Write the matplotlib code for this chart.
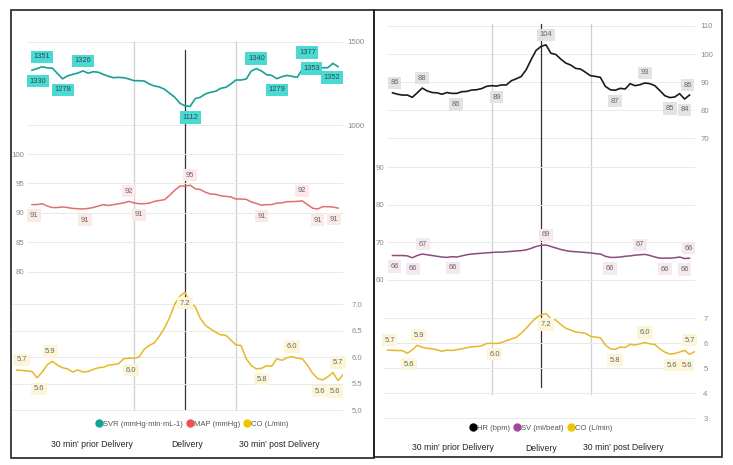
import numpy as np
import matplotlib.pyplot as plt
from matplotlib.lines import Line2D
from matplotlib.patches import Rectangle

plt.rcParams['font.family'] = ['Liberation Sans Narrow', 'Liberation Sans', 'DejaVu Sans']

W, H = 733, 465

# minutes relative to delivery
minutes = np.arange(-30, 31)
minutes_co_l = np.arange(-33, 32)   # the left CO trace runs a little wider
minutes_co_r = np.arange(-31, 32)
marks_at = [-10, 0, 10]

svr = [1330, 1340, 1351, 1344, 1342, 1310, 1278, 1296, 1305, 1313,
       1326, 1312, 1321, 1318, 1305, 1293, 1285, 1287, 1285, 1277,
       1267, 1267, 1265, 1247, 1235, 1229, 1215, 1191, 1167, 1131,
       1115,
       1112, 1159, 1167, 1187, 1197, 1203, 1221, 1227, 1247, 1271,
       1271, 1277, 1325, 1340, 1325, 1303, 1299, 1279, 1291, 1299,
       1293, 1287, 1335, 1377, 1353, 1347, 1345, 1345, 1371, 1352]

map_ = [91.4, 91.4, 91.55, 91.15, 90.9, 90.9, 91.0, 90.9, 90.75, 90.7,
        90.65, 90.75, 90.9, 91.15, 91.4, 91.25, 91.4, 91.55, 91.7, 91.95,
        91.7, 91.55, 91.55, 91.65, 91.95, 92.1, 92.25, 93.0, 93.85, 94.55,
        94.55,
        94.7, 94.1, 93.95, 93.5, 93.2, 93.15, 92.9, 92.8, 92.7, 92.35,
        92.35, 92.3, 91.85, 91.6, 91.3, 91.4, 91.4, 91.65, 91.7, 91.9,
        91.9, 91.95, 92.05, 91.4, 90.8, 90.65, 91.05, 91.05, 91.0, 90.8]

co_l = [5.76, 5.75, 5.74,
        5.73, 5.61, 5.72, 5.86, 5.92, 5.85, 5.80, 5.78, 5.72, 5.76,
        5.72, 5.73, 5.77, 5.80, 5.81, 5.85, 5.86, 5.88, 5.97, 5.98,
        5.98, 6.00, 6.15, 6.22, 6.27, 6.40, 6.55, 6.75, 7.00, 7.15,
        7.22,
        7.02, 6.95, 6.73, 6.60, 6.53, 6.47, 6.42, 6.41, 6.32, 6.23,
        6.22, 5.97, 5.84, 5.78, 5.79, 5.84, 5.83, 5.97, 5.94, 5.99,
        6.01, 5.98, 5.97, 5.85, 5.70, 5.60, 5.57, 5.63, 5.71, 5.56,
        5.67]

hr = [86.2, 85.7, 85.4, 85.4, 84.6, 86.2, 87.9, 86.9, 86.3, 86.2,
      85.7, 86.3, 86.0, 86.0, 86.6, 86.7, 87.2, 87.3, 87.7, 88.5,
      88.75, 88.6, 89.0, 89.0, 90.5, 91.2, 92.0, 94.4, 98.0, 101.3,
      102.7,
      103.3, 100.3, 99.85, 98.2, 96.8, 96.1, 94.9, 94.65, 93.5, 92.3,
      92.05, 91.7, 88.5, 87.3, 87.1, 87.8, 87.55, 89.45, 88.75, 89.1,
      89.7, 89.45, 88.75, 87.0, 85.2, 84.5, 84.7, 85.9, 84.0, 85.4]

sv = [66.5, 66.5, 66.5, 66.4, 65.9, 66.5, 66.9, 66.7, 66.5, 66.3,
      66.1, 66.0, 66.2, 66.1, 66.4, 66.7, 66.9, 67.0, 67.1, 67.2,
      67.3, 67.4, 67.4, 67.5, 67.6, 67.7, 67.8, 68.0, 68.4, 68.9,
      69.2,
      69.3, 68.9, 68.5, 68.1, 67.8, 67.6, 67.5, 67.4, 67.3, 67.2,
      67.0, 66.9, 66.3, 66.0, 66.0, 66.1, 66.3, 66.4, 66.6, 66.7,
      66.8, 66.5, 66.1, 65.8, 65.8, 65.8, 65.9, 66.1, 65.7, 65.8]

co_r = [5.73,
        5.72, 5.71, 5.71, 5.60, 5.74, 5.92, 5.84, 5.80, 5.78, 5.74,
        5.68, 5.73, 5.71, 5.74, 5.78, 5.82, 5.86, 5.87, 5.90, 5.99,
        6.00, 5.99, 6.03, 6.10, 6.17, 6.24, 6.40, 6.60, 6.82, 7.02,
        7.14,
        7.19, 6.98, 6.93, 6.75, 6.60, 6.53, 6.45, 6.43, 6.40, 6.28,
        6.25, 6.22, 5.93, 5.78, 5.76, 5.85, 5.83, 5.96, 5.93, 5.98,
        6.03, 5.98, 5.95, 5.78, 5.65, 5.57, 5.59, 5.65, 5.72, 5.56,
        5.66]

# data labels: minute, text
svr_lab_at = [-30, -28, -24, -20, 1, 14, 18, 24, 25, 30]
svr_lab_txt = ['1330', '1351', '1278', '1326', '1112', '1340', '1279', '1377', '1353', '1352']
map_lab_at = [-30, -20, -11, -9, 1, 15, 23, 26, 30]
map_lab_txt = ['91', '91', '92', '91', '95', '91', '92', '91', '91']
co_l_lab_at = [-33, -29, -26, -10, 0, 15, 21, 27, 30, 29]
co_l_lab_txt = ['5.7', '5.6', '5.9', '6.0', '7.2', '5.8', '6.0', '5.6', '5.6', '5.7']
hr_lab_at = [-30, -24, -18, -9, 1, 15, 21, 26, 29, 30]
hr_lab_txt = ['86', '88', '86', '89', '104', '87', '93', '85', '84', '86']
sv_lab_at = [-30, -26, -24, -18, 1, 14, 20, 25, 29, 30]
sv_lab_txt = ['66', '66', '67', '66', '69', '66', '67', '66', '66', '66']
co_r_lab_at = [-31, -27, -25, -10, 1, 15, 21, 26, 30, 29]
co_r_lab_txt = ['5.7', '5.6', '5.9', '6.0', '7.2', '5.8', '6.0', '5.6', '5.6', '5.7']

# label placement (pixels): (dx, dy), dy positive = above
UP, DN = 10, -11
svr_lab_pos = [(6, DN), (0, UP), (0, DN), (0, UP), (0, DN), (0, UP), (0, DN), (0, UP), (-1, -2), (-6, DN)]
map_lab_pos = [(2, DN), (2, DN), (0, UP), (0, DN), (0, UP), (0, DN), (0, UP), (0, DN), (-4, DN)]
co_l_lab_pos = [(5, UP), (2, DN), (-2, UP), (-3, -12), (0, DN), (0, DN), (0, UP), (-3, DN), (-3, DN), (5, UP)]
hr_lab_pos = [(2, UP), (0, UP), (4, DN), (0, DN), (0, UP), (0, DN), (0, UP), (0, DN), (0, DN), (-2, UP)]
sv_lab_pos = [(2, DN), (1, DN), (1, UP), (1, DN), (0, UP), (0, DN), (0, UP), (0, DN), (0, DN), (-1, UP)]
co_r_lab_pos = [(2, UP), (2, DN), (2, UP), (3, DN), (0, DN), (0, DN), (0, UP), (2, DN), (-3, DN), (5, UP)]

fig = plt.figure(figsize=(W / 100, H / 100), dpi=100)


def px_axes(x0, y0, x1, y1):
    ax = fig.add_axes([x0 / W, 1 - y1 / H, (x1 - x0) / W, (y1 - y0) / H])
    ax.set_facecolor('none')
    for s in ax.spines.values():
        s.set_visible(False)
    ax.set_xticks([])
    return ax, (x0, y0, x1, y1)


def fit(ax, box, xz, ppm, va, ya, vb, yb):
    x0, y0, x1, y1 = box
    ax.set_xlim((x0 - xz) / ppm, (x1 - xz) / ppm)
    k = (vb - va) / (yb - ya)
    ax.set_ylim(va + (y1 - ya) * k, va + (y0 - ya) * k)


def yaxis(ax, ticks, side, pad, fmt, size=5.6):
    ax.set_yticks(ticks)
    ax.set_yticklabels([fmt.format(t) for t in ticks])
    ax.yaxis.set_ticks_position(side)
    ax.tick_params(axis='y', length=0, pad=pad, labelsize=size, labelcolor='#8a8a8a')
    ax.grid(axis='y', color='#e9e9e9', lw=0.7)
    ax.set_axisbelow(True)


def labels(ax, xs, ys, at, txt, pos, fc, tc):
    xs = list(xs)
    for m, t, (dx, dy) in zip(at, txt, pos):
        i = xs.index(m)
        ax.annotate(t, (xs[i], ys[i]), xytext=(dx, dy), textcoords='offset pixels',
                    ha='center', va='center', fontsize=5.4, color=tc, zorder=5,
                    bbox=dict(boxstyle='square,pad=0.35', fc=fc, ec='none'))


def vlines(ax, box, spans):
    x0, y0, x1, y1 = box
    for m, (ya, yb), col, lw in spans:
        ax.axvline(m, ymin=(y1 - yb) / (y1 - y0), ymax=(y1 - ya) / (y1 - y0),
                   color=col, lw=lw, zorder=1, clip_on=False)


# ---------------- left panel ----------------
ax_svr, b1 = px_axes(27, 20, 343, 415)
fit(ax_svr, b1, 185, 5.1, 1500, 42, 1000, 125)
yaxis(ax_svr, [1000, 1500], 'right', 3, '{:d}')
vlines(ax_svr, b1, [(marks_at[0], (42, 410), '#cfcfcf', 0.9),
                    (marks_at[2], (42, 410), '#cfcfcf', 0.9),
                    (marks_at[1], (50, 409), '#333333', 0.9)])
ax_svr.plot(minutes, svr, color='#17a095', lw=1.2, zorder=3)
labels(ax_svr, minutes, svr, svr_lab_at, svr_lab_txt, svr_lab_pos, '#4cd9d3', '#24504e')

ax_map, b2 = px_axes(27, 20, 343, 415)
fit(ax_map, b2, 185, 5.1, 100, 154, 80, 271.7)
yaxis(ax_map, [80, 85, 90, 95, 100], 'left', 2, '{:d}')
ax_map.plot(minutes, map_, color='#e0706a', lw=1.1, zorder=3)
labels(ax_map, minutes, map_, map_lab_at, map_lab_txt, map_lab_pos, '#fbe9e8', '#666666')

ax_col, b3 = px_axes(13, 20, 343, 415)
fit(ax_col, b3, 185, 5.1, 7.0, 304, 5.0, 410.3)
yaxis(ax_col, [5.0, 5.5, 6.0, 6.5, 7.0], 'right', 6, '{:.1f}')
ax_col.plot(minutes_co_l, co_l, color='#e7b825', lw=1.1, zorder=3)
labels(ax_col, minutes_co_l, co_l, co_l_lab_at, co_l_lab_txt, co_l_lab_pos, '#fdf5d8', '#666666')

# ---------------- right panel ----------------
ax_hr, b4 = px_axes(387, 18, 695, 420)
fit(ax_hr, b4, 541, 4.95, 110, 26, 70, 138.3)
yaxis(ax_hr, [70, 80, 90, 100, 110], 'right', 4, '{:d}')
vlines(ax_hr, b4, [(marks_at[0], (24, 394), '#cfcfcf', 0.9),
                   (marks_at[2], (24, 394), '#cfcfcf', 0.9),
                   (marks_at[1], (24, 387), '#333333', 0.9)])
ax_hr.plot(minutes, hr, color='#1a1a1a', lw=1.2, zorder=3)
labels(ax_hr, minutes, hr, hr_lab_at, hr_lab_txt, hr_lab_pos, '#e3e3e3', '#666666')

ax_sv, b5 = px_axes(387, 18, 695, 420)
fit(ax_sv, b5, 541, 4.95, 90, 167, 60, 280)
yaxis(ax_sv, [60, 70, 80, 90], 'left', 2, '{:d}')
ax_sv.plot(minutes, sv, color='#8c4a7c', lw=1.1, zorder=3)
labels(ax_sv, minutes, sv, sv_lab_at, sv_lab_txt, sv_lab_pos, '#f6e8ef', '#666666')

ax_cor, b6 = px_axes(384, 18, 695, 420)
fit(ax_cor, b6, 541, 4.95, 7, 318.3, 3, 418.3)
yaxis(ax_cor, [3, 4, 5, 6, 7], 'right', 6, '{:d}')
ax_cor.plot(minutes_co_r, co_r, color='#e7b825', lw=1.1, zorder=3)
labels(ax_cor, minutes_co_r, co_r, co_r_lab_at, co_r_lab_txt, co_r_lab_pos, '#fdf5d8', '#666666')


# ---------------- legends, captions, frames ----------------
def legend(names, colors, cx, cy):
    hs = [Line2D([], [], ls='none', marker='o', ms=5, mfc=c, mec=c) for c in colors]
    fig.legend(hs, names, loc='center', bbox_to_anchor=(cx / W, 1 - cy / H), ncol=3,
               frameon=False, fontsize=5.5, handletextpad=0.05, columnspacing=0.5,
               handlelength=0.9, labelcolor='#555555')


legend(['SVR (mmHg·min·mL-1)', 'MAP (mmHg)', 'CO (L/min)'],
       ['#12a398', '#f0504f', '#f2c200'], 192, 424)
legend(['HR (bpm)', 'SV (ml/beat)', 'CO (L/min)'],
       ['#000000', '#a3479a', '#f2c200'], 541, 428)

captions = ["30 min' prior Delivery", 'Delivery', "30 min' post Delivery"]
for (cx, cy), t in zip([(92, 444), (187, 444), (279, 444)], captions):
    fig.text(cx / W, 1 - cy / H, t, ha='center', va='center', fontsize=6.2, color='#222222')
for (cx, cy), t in zip([(453, 447), (541, 448), (623, 447)], captions):
    fig.text(cx / W, 1 - cy / H, t, ha='center', va='center', fontsize=6.2, color='#222222')

for x0, y0, x1, y1 in [(11, 10, 374, 458), (374, 10, 722, 457)]:
    fig.add_artist(Rectangle((x0 / W, 1 - y1 / H), (x1 - x0) / W, (y1 - y0) / H,
                             transform=fig.transFigure, fill=False, lw=1.2, ec='#222222'))

fig.savefig('out.png', dpi=100)
